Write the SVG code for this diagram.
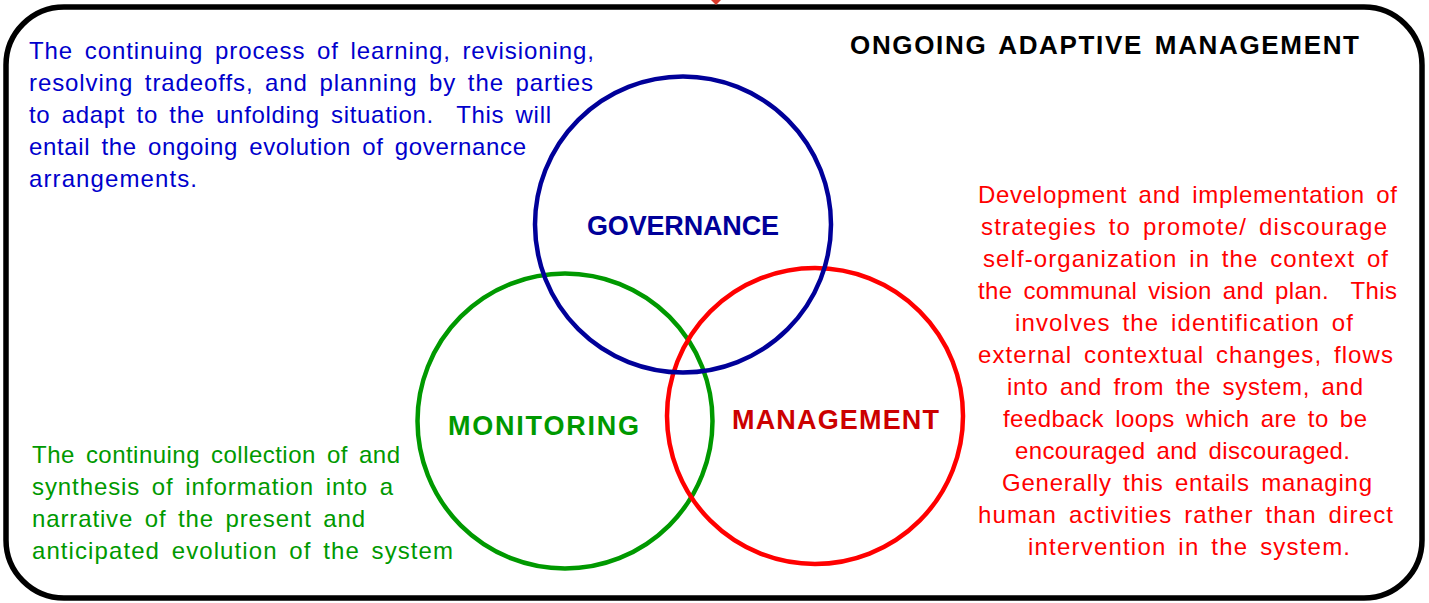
<svg xmlns="http://www.w3.org/2000/svg" width="1429" height="603" viewBox="0 0 1429 603">
<style>
.t{font-family:"Liberation Sans",Arial,sans-serif;font-size:24px;word-spacing:4px}
.b{font-family:"Liberation Sans",Arial,sans-serif;font-weight:bold}
.blue{fill:#0000cc}
.green{fill:#009900}
.red{fill:#ff0000}
.ring{fill:none;stroke-width:4.5}
</style>
<rect id="frame" x="6" y="7" width="1416" height="591" rx="58" ry="58" fill="#ffffff" stroke="#000000" stroke-width="5.5"/>
<g id="connectors">
<polygon points="711,0 721,0 716,5" fill="#d93a2b"/>
</g>
<g id="title">
<text class="b" x="850" y="54" font-size="26" word-spacing="3" textLength="509" lengthAdjust="spacing" fill="#000000">ONGOING ADAPTIVE MANAGEMENT</text>
</g>
<g id="monitoring">
<circle class="ring" cx="565" cy="421" r="147.5" stroke="#009900"/>
<text class="b green" x="448" y="435" font-size="27" textLength="191" lengthAdjust="spacing">MONITORING</text>
</g>
<g id="management">
<circle class="ring" cx="815" cy="416" r="148" stroke="#ff0000"/>
<text class="b" x="732" y="429" font-size="27" textLength="207" lengthAdjust="spacing" fill="#cc0000">MANAGEMENT</text>
</g>
<g id="governance">
<circle class="ring" cx="683" cy="224.5" r="148" stroke="#000099"/>
<text class="b" x="587" y="235" font-size="27" textLength="192" lengthAdjust="spacing" fill="#000099">GOVERNANCE</text>
</g>
<g id="governance-note" class="t blue">
<text x="29" y="59" textLength="565" lengthAdjust="spacing">The continuing process of learning, revisioning,</text>
<text x="29" y="91" textLength="564" lengthAdjust="spacing">resolving tradeoffs, and planning by the parties</text>
<text x="29" y="123" textLength="522" lengthAdjust="spacing" xml:space="preserve">to adapt to the unfolding situation.  This will</text>
<text x="29" y="155" textLength="497" lengthAdjust="spacing">entail the ongoing evolution of governance</text>
<text x="29" y="187" textLength="168" lengthAdjust="spacing">arrangements.</text>
</g>
<g id="monitoring-note" class="t green">
<text x="32" y="463" textLength="368" lengthAdjust="spacing">The continuing collection of and</text>
<text x="32" y="495" textLength="361" lengthAdjust="spacing">synthesis of information into a</text>
<text x="32" y="527" textLength="333" lengthAdjust="spacing">narrative of the present and</text>
<text x="32" y="559" textLength="421" lengthAdjust="spacing">anticipated evolution of the system</text>
</g>
<g id="management-note" class="t red" text-anchor="middle">
<text x="1187.5" y="203" textLength="419" lengthAdjust="spacing">Development and implementation of</text>
<text x="1184" y="235" textLength="406" lengthAdjust="spacing">strategies to promote/ discourage</text>
<text x="1185.5" y="267" textLength="405" lengthAdjust="spacing">self-organization in the context of</text>
<text x="1187.5" y="299" textLength="419" lengthAdjust="spacing" xml:space="preserve">the communal vision and plan.  This</text>
<text x="1184" y="331" textLength="338" lengthAdjust="spacing">involves the identification of</text>
<text x="1185.5" y="363" textLength="415" lengthAdjust="spacing">external contextual changes, flows</text>
<text x="1185" y="395" textLength="356" lengthAdjust="spacing">into and from the system, and</text>
<text x="1185" y="427" textLength="364" lengthAdjust="spacing">feedback loops which are to be</text>
<text x="1182.5" y="459" textLength="335" lengthAdjust="spacing">encouraged and discouraged.</text>
<text x="1187" y="491" textLength="370" lengthAdjust="spacing">Generally this entails managing</text>
<text x="1185.5" y="523" textLength="415" lengthAdjust="spacing">human activities rather than direct</text>
<text x="1189" y="555" textLength="322" lengthAdjust="spacing">intervention in the system.</text>
</g>
</svg>
